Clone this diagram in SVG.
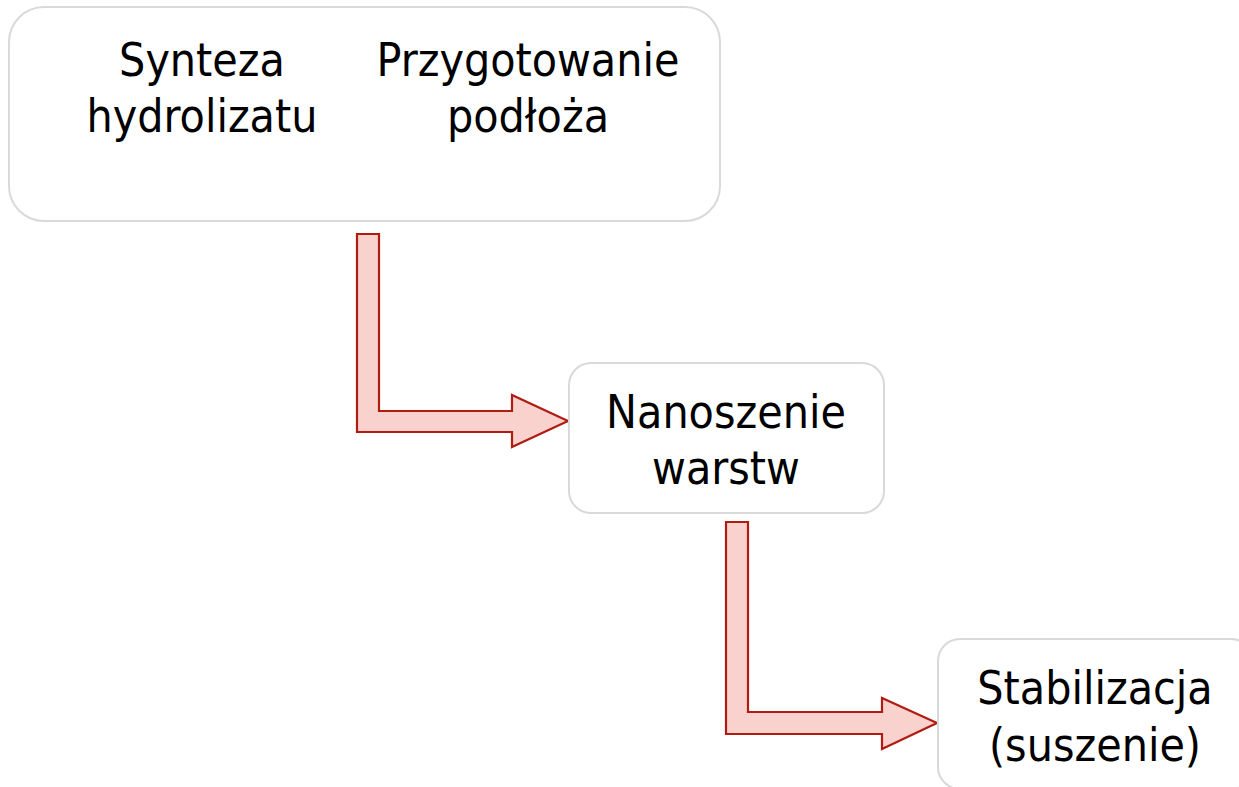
<svg xmlns="http://www.w3.org/2000/svg" width="1239" height="787" viewBox="0 0 1239 787">
<style>
.box{fill:#ffffff;stroke:#d9d9d9;stroke-width:2}
.lbl{font-family:"DejaVu Sans Condensed","DejaVu Sans",sans-serif;font-stretch:condensed;font-size:46px;fill:#000000;text-anchor:middle}
.arr{fill:#f9d1cd;stroke:#b01c12;stroke-width:2.2;stroke-linejoin:miter}
</style>
<rect width="1239" height="787" fill="#ffffff"/>
<g id="connectors">
<path class="arr" d="M357,234 H379 V411 H512 V395 L568,421 L512,447 V432 H357 Z"/>
<path class="arr" d="M726,522 H748 V712 H882 V698 L937,723 L882,749 V734 H726 Z"/>
</g>
<g id="node-prep">
<rect class="box" x="9" y="7" width="711" height="214" rx="35"/>
<text class="lbl" x="202" y="76">Synteza</text>
<text class="lbl" x="202" y="132">hydrolizatu</text>
<text class="lbl" x="528" y="76">Przygotowanie</text>
<text class="lbl" x="528" y="132">podłoża</text>
</g>
<g id="node-nanoszenie">
<rect class="box" x="569" y="363" width="315" height="150" rx="22"/>
<text class="lbl" x="726" y="428">Nanoszenie</text>
<text class="lbl" x="726" y="484">warstw</text>
</g>
<g id="node-stabilizacja">
<rect class="box" x="938" y="639" width="315" height="150" rx="22"/>
<text class="lbl" x="1095" y="704">Stabilizacja</text>
<text class="lbl" x="1095" y="761">(suszenie)</text>
</g>
</svg>
